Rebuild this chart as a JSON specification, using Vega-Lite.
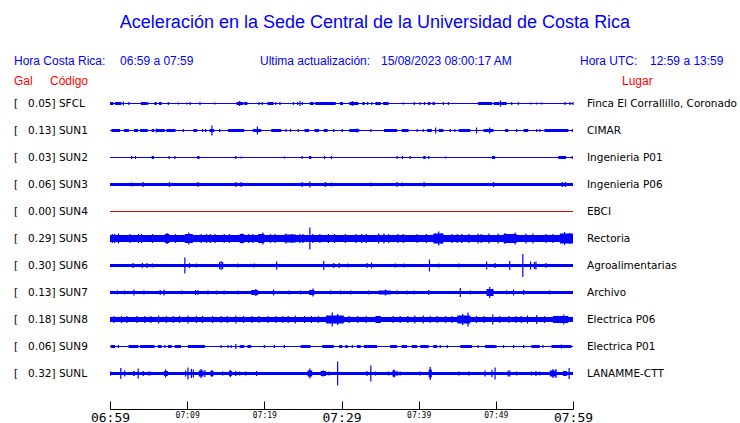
{
  "$schema": "https://vega.github.io/schema/vega-lite/v6.json",
  "autosize": {"type": "none"},
  "width": 463,
  "height": 319,
  "padding": {"left": 110, "top": 90, "right": 167, "bottom": 14},
  "background": "white",
  "config": {"view": {"stroke": null}},
  "datasets": {
    "stations": [
      {"code": "SFCL", "idx": 0, "gal": 0.05, "label": "[\u00a0\u00a0\u00a00.05] SFCL", "lugar": "Finca El Corrallillo, Coronado", "base": 1},
      {"code": "SUN1", "idx": 1, "gal": 0.13, "label": "[\u00a0\u00a0\u00a00.13] SUN1", "lugar": "CIMAR", "base": 1},
      {"code": "SUN2", "idx": 2, "gal": 0.03, "label": "[\u00a0\u00a0\u00a00.03] SUN2", "lugar": "Ingenieria P01", "base": 1},
      {"code": "SUN3", "idx": 3, "gal": 0.06, "label": "[\u00a0\u00a0\u00a00.06] SUN3", "lugar": "Ingenieria P06", "base": 3},
      {"code": "SUN4", "idx": 4, "gal": 0.00, "label": "[\u00a0\u00a0\u00a00.00] SUN4", "lugar": "EBCI", "base": 1},
      {"code": "SUN5", "idx": 5, "gal": 0.29, "label": "[\u00a0\u00a0\u00a00.29] SUN5", "lugar": "Rectoria", "base": 7},
      {"code": "SUN6", "idx": 6, "gal": 0.30, "label": "[\u00a0\u00a0\u00a00.30] SUN6", "lugar": "Agroalimentarias", "base": 3},
      {"code": "SUN7", "idx": 7, "gal": 0.13, "label": "[\u00a0\u00a0\u00a00.13] SUN7", "lugar": "Archivo", "base": 3},
      {"code": "SUN8", "idx": 8, "gal": 0.18, "label": "[\u00a0\u00a0\u00a00.18] SUN8", "lugar": "Electrica P06", "base": 5},
      {"code": "SUN9", "idx": 9, "gal": 0.06, "label": "[\u00a0\u00a0\u00a00.06] SUN9", "lugar": "Electrica P01", "base": 1},
      {"code": "SUNL", "idx": 10, "gal": 0.32, "label": "[\u00a0\u00a0\u00a00.32] SUNL", "lugar": "LANAMME-CTT", "base": 3}
    ],
    "segments": [
      {"s":"SFCL","a":0,"b":0.45,"h":3},{"s":"SFCL","a":0.65,"b":1.5,"h":3},{"s":"SFCL","a":4.0,"b":4.75,"h":3},{"s":"SFCL","a":5.75,"b":6.05,"h":3},{"s":"SFCL","a":6.35,"b":6.7,"h":3},{"s":"SFCL","a":16.4,"b":17.3,"h":3},{"s":"SFCL","a":17.4,"b":17.8,"h":3},{"s":"SFCL","a":20.4,"b":21.2,"h":3},{"s":"SFCL","a":25.9,"b":26.4,"h":3},{"s":"SFCL","a":26.6,"b":29.2,"h":3},{"s":"SFCL","a":29.8,"b":30.2,"h":3},{"s":"SFCL","a":31.0,"b":32.2,"h":3},{"s":"SFCL","a":32.7,"b":33.0,"h":3},{"s":"SFCL","a":34.4,"b":35.1,"h":3},{"s":"SFCL","a":35.4,"b":36.1,"h":3},{"s":"SFCL","a":41.2,"b":41.5,"h":3},{"s":"SFCL","a":41.8,"b":42.1,"h":3},{"s":"SFCL","a":47.7,"b":49.5,"h":3},{"s":"SFCL","a":49.7,"b":50.5,"h":3},{"s":"SFCL","a":50.7,"b":51.4,"h":3},
      {"s":"SUN1","a":0.2,"b":1.3,"h":3},{"s":"SUN1","a":1.8,"b":2.45,"h":3},{"s":"SUN1","a":3.2,"b":3.65,"h":3},{"s":"SUN1","a":3.9,"b":4.9,"h":3},{"s":"SUN1","a":5.4,"b":5.75,"h":3},{"s":"SUN1","a":6.0,"b":7.1,"h":3},{"s":"SUN1","a":7.3,"b":8.5,"h":3},{"s":"SUN1","a":10.8,"b":11.3,"h":3},{"s":"SUN1","a":12.3,"b":12.5,"h":3},{"s":"SUN1","a":12.9,"b":13.5,"h":3},{"s":"SUN1","a":15.3,"b":17.4,"h":3},{"s":"SUN1","a":18.5,"b":19.6,"h":3},{"s":"SUN1","a":20.9,"b":22.2,"h":3},{"s":"SUN1","a":25.2,"b":25.8,"h":3},{"s":"SUN1","a":26.5,"b":27.1,"h":3},{"s":"SUN1","a":27.7,"b":28.2,"h":3},{"s":"SUN1","a":31.0,"b":32.3,"h":3},{"s":"SUN1","a":35.5,"b":37.2,"h":3},{"s":"SUN1","a":37.8,"b":38.7,"h":3},{"s":"SUN1","a":41.1,"b":41.7,"h":3},{"s":"SUN1","a":42.6,"b":43.2,"h":3},{"s":"SUN1","a":45.2,"b":46.7,"h":3},{"s":"SUN1","a":48.4,"b":49.7,"h":3},{"s":"SUN1","a":51.2,"b":51.6,"h":3},{"s":"SUN1","a":53.6,"b":54.2,"h":3},{"s":"SUN1","a":56.3,"b":59.4,"h":3},
      {"s":"SUN2","a":5.4,"b":5.7,"h":3},{"s":"SUN2","a":11.3,"b":11.6,"h":3},{"s":"SUN2","a":25.8,"b":26.1,"h":3},{"s":"SUN2","a":40.6,"b":40.9,"h":3},{"s":"SUN2","a":49.5,"b":49.9,"h":3},{"s":"SUN2","a":58.1,"b":59.1,"h":3},
      {"s":"SUN5","a":7.1,"b":7.7,"h":9},{"s":"SUN5","a":9.7,"b":10.75,"h":9},{"s":"SUN5","a":16.8,"b":17.4,"h":9},{"s":"SUN5","a":19.2,"b":20.0,"h":9},{"s":"SUN5","a":22.6,"b":24.1,"h":8},{"s":"SUN5","a":41.9,"b":43.2,"h":10},{"s":"SUN5","a":51.0,"b":52.7,"h":9},{"s":"SUN5","a":58.3,"b":60,"h":10},
      {"s":"SUN7","a":18.3,"b":19.2,"h":5},{"s":"SUN7","a":25.8,"b":26.5,"h":5},{"s":"SUN7","a":34.8,"b":36.4,"h":4},{"s":"SUN7","a":48.8,"b":49.7,"h":7},
      {"s":"SUN8","a":28.0,"b":30.3,"h":8},{"s":"SUN8","a":45.0,"b":46.7,"h":8},{"s":"SUN8","a":34.4,"b":35.1,"h":7},{"s":"SUN8","a":57.4,"b":59.4,"h":7},
      {"s":"SUN9","a":0.1,"b":0.65,"h":3},{"s":"SUN9","a":2.4,"b":3.7,"h":3},{"s":"SUN9","a":3.9,"b":5.8,"h":3},{"s":"SUN9","a":6.2,"b":6.7,"h":3},{"s":"SUN9","a":7.5,"b":8.0,"h":3},{"s":"SUN9","a":8.4,"b":9.2,"h":3},{"s":"SUN9","a":10.1,"b":12.3,"h":3},{"s":"SUN9","a":16.8,"b":17.4,"h":3},{"s":"SUN9","a":17.8,"b":18.3,"h":3},{"s":"SUN9","a":24.7,"b":26.0,"h":3},{"s":"SUN9","a":27.5,"b":29.0,"h":3},{"s":"SUN9","a":29.7,"b":30.1,"h":3},{"s":"SUN9","a":30.5,"b":30.8,"h":3},{"s":"SUN9","a":32.0,"b":32.5,"h":3},{"s":"SUN9","a":32.9,"b":34.6,"h":3},{"s":"SUN9","a":36.3,"b":37.2,"h":3},{"s":"SUN9","a":37.8,"b":38.5,"h":3},{"s":"SUN9","a":39.1,"b":39.8,"h":3},{"s":"SUN9","a":40.2,"b":41.3,"h":3},{"s":"SUN9","a":41.9,"b":42.4,"h":3},{"s":"SUN9","a":45.4,"b":46.9,"h":3},{"s":"SUN9","a":48.6,"b":49.9,"h":3},{"s":"SUN9","a":54.6,"b":55.7,"h":3},{"s":"SUN9","a":57.2,"b":59.8,"h":3},
      {"s":"SUNL","a":3.0,"b":3.2,"h":5},{"s":"SUNL","a":7.0,"b":7.5,"h":5},{"s":"SUNL","a":11.5,"b":12.1,"h":6},{"s":"SUNL","a":13.0,"b":13.4,"h":5},{"s":"SUNL","a":15.4,"b":15.8,"h":5},{"s":"SUNL","a":25.6,"b":26.2,"h":6},{"s":"SUNL","a":27.3,"b":28.0,"h":5},{"s":"SUNL","a":36.6,"b":37.0,"h":6},{"s":"SUNL","a":41.3,"b":41.7,"h":8},{"s":"SUNL","a":57.0,"b":57.8,"h":6},{"s":"SUNL","a":58.7,"b":59.2,"h":5}
    ],
    "spikes": [
      {"s":"SFCL","t":1.73,"h":4},{"s":"SFCL","t":2.46,"h":3},{"s":"SFCL","t":4.88,"h":3},{"s":"SFCL","t":7.56,"h":3},{"s":"SFCL","t":8.86,"h":2},{"s":"SFCL","t":9.94,"h":2},{"s":"SFCL","t":10.37,"h":3},{"s":"SFCL","t":11.66,"h":3},{"s":"SFCL","t":13.61,"h":2},{"s":"SFCL","t":16.8,"h":5},{"s":"SFCL","t":19.31,"h":3},{"s":"SFCL","t":19.74,"h":3},{"s":"SFCL","t":21.47,"h":3},{"s":"SFCL","t":22.03,"h":3},{"s":"SFCL","t":23.76,"h":3},{"s":"SFCL","t":24.32,"h":3},{"s":"SFCL","t":24.62,"h":5},{"s":"SFCL","t":24.93,"h":3},{"s":"SFCL","t":29.16,"h":3},{"s":"SFCL","t":31.4,"h":5},{"s":"SFCL","t":33.39,"h":3},{"s":"SFCL","t":33.91,"h":3},{"s":"SFCL","t":38.02,"h":2},{"s":"SFCL","t":39.44,"h":3},{"s":"SFCL","t":40.18,"h":3},{"s":"SFCL","t":40.74,"h":3},{"s":"SFCL","t":43.2,"h":3},{"s":"SFCL","t":43.85,"h":3},{"s":"SFCL","t":50.6,"h":6},{"s":"SFCL","t":52.06,"h":3},{"s":"SFCL","t":52.92,"h":3},{"s":"SFCL","t":54.56,"h":2},{"s":"SFCL","t":55.3,"h":2},{"s":"SFCL","t":55.94,"h":2},{"s":"SFCL","t":58.97,"h":3},{"s":"SFCL","t":59.62,"h":3},{"s":"SFCL","t":60,"h":3},
      {"s":"SUN1","t":13.2,"h":10},{"s":"SUN1","t":19.1,"h":8},{"s":"SUN1","t":42.2,"h":6},{"s":"SUN1","t":47.5,"h":6},{"s":"SUN1","t":49.2,"h":6},{"s":"SUN1","t":32.0,"h":4},{"s":"SUN1","t":6.0,"h":4},{"s":"SUN1","t":3.2,"h":3},{"s":"SUN1","t":9.5,"h":3},{"s":"SUN1","t":11.0,"h":3},{"s":"SUN1","t":12.0,"h":3},{"s":"SUN1","t":14.2,"h":3},{"s":"SUN1","t":22.8,"h":3},{"s":"SUN1","t":23.4,"h":3},{"s":"SUN1","t":24.4,"h":3},{"s":"SUN1","t":29.0,"h":3},{"s":"SUN1","t":30.1,"h":3},{"s":"SUN1","t":33.8,"h":3},{"s":"SUN1","t":39.8,"h":3},{"s":"SUN1","t":40.6,"h":3},{"s":"SUN1","t":44.1,"h":3},{"s":"SUN1","t":44.7,"h":3},{"s":"SUN1","t":52.7,"h":3},{"s":"SUN1","t":55.3,"h":3},{"s":"SUN1","t":55.7,"h":3},{"s":"SUN1","t":59.9,"h":3},
      {"s":"SUN2","t":2.8,"h":3},{"s":"SUN2","t":3.3,"h":3},{"s":"SUN2","t":7.66,"h":3},{"s":"SUN2","t":8.4,"h":3},{"s":"SUN2","t":16.3,"h":3},{"s":"SUN2","t":17.0,"h":2},{"s":"SUN2","t":22.6,"h":2},{"s":"SUN2","t":24.9,"h":3},{"s":"SUN2","t":27.8,"h":3},{"s":"SUN2","t":28.7,"h":3},{"s":"SUN2","t":37.2,"h":3},{"s":"SUN2","t":37.9,"h":3},{"s":"SUN2","t":38.9,"h":3},{"s":"SUN2","t":41.3,"h":3},{"s":"SUN2","t":43.5,"h":2},{"s":"SUN2","t":59.9,"h":3},
      {"s":"SUN3","t":2.8,"h":4},{"s":"SUN3","t":4.3,"h":5},{"s":"SUN3","t":7.7,"h":5},{"s":"SUN3","t":11.4,"h":5},{"s":"SUN3","t":16.3,"h":5},{"s":"SUN3","t":17.0,"h":5},{"s":"SUN3","t":24.9,"h":5},{"s":"SUN3","t":25.9,"h":6},{"s":"SUN3","t":27.9,"h":5},{"s":"SUN3","t":28.7,"h":4},{"s":"SUN3","t":33.8,"h":4},{"s":"SUN3","t":37.2,"h":5},{"s":"SUN3","t":37.9,"h":4},{"s":"SUN3","t":40.7,"h":5},{"s":"SUN3","t":49.7,"h":5},{"s":"SUN3","t":58.6,"h":5},{"s":"SUN3","t":59.0,"h":5},
      {"s":"SUN5","t":0.3,"h":9},{"s":"SUN5","t":0.6,"h":9},{"s":"SUN5","t":1.1,"h":10},{"s":"SUN5","t":2.6,"h":9},{"s":"SUN5","t":3.7,"h":9},{"s":"SUN5","t":4.1,"h":9},{"s":"SUN5","t":5.5,"h":9},{"s":"SUN5","t":7.4,"h":11},{"s":"SUN5","t":8.5,"h":9},{"s":"SUN5","t":10.2,"h":12},{"s":"SUN5","t":11.8,"h":9},{"s":"SUN5","t":12.5,"h":9},{"s":"SUN5","t":13.0,"h":9},{"s":"SUN5","t":13.6,"h":9},{"s":"SUN5","t":14.8,"h":9},{"s":"SUN5","t":15.5,"h":9},{"s":"SUN5","t":17.1,"h":10},{"s":"SUN5","t":18.0,"h":9},{"s":"SUN5","t":18.5,"h":9},{"s":"SUN5","t":19.8,"h":12},{"s":"SUN5","t":20.8,"h":9},{"s":"SUN5","t":21.4,"h":9},{"s":"SUN5","t":22.8,"h":10},{"s":"SUN5","t":23.6,"h":9},{"s":"SUN5","t":24.6,"h":9},{"s":"SUN5","t":25.0,"h":9},{"s":"SUN5","t":25.9,"h":22},{"s":"SUN5","t":26.3,"h":9},{"s":"SUN5","t":27.2,"h":9},{"s":"SUN5","t":28.3,"h":9},{"s":"SUN5","t":29.1,"h":9},{"s":"SUN5","t":30.5,"h":9},{"s":"SUN5","t":31.9,"h":9},{"s":"SUN5","t":32.6,"h":9},{"s":"SUN5","t":33.2,"h":9},{"s":"SUN5","t":34.8,"h":10},{"s":"SUN5","t":35.5,"h":10},{"s":"SUN5","t":36.1,"h":9},{"s":"SUN5","t":37.3,"h":9},{"s":"SUN5","t":38.0,"h":9},{"s":"SUN5","t":39.8,"h":9},{"s":"SUN5","t":41.0,"h":9},{"s":"SUN5","t":42.6,"h":14},{"s":"SUN5","t":43.0,"h":11},{"s":"SUN5","t":44.3,"h":9},{"s":"SUN5","t":45.0,"h":9},{"s":"SUN5","t":45.6,"h":9},{"s":"SUN5","t":46.5,"h":9},{"s":"SUN5","t":47.7,"h":10},{"s":"SUN5","t":48.1,"h":9},{"s":"SUN5","t":49.1,"h":10},{"s":"SUN5","t":50.3,"h":10},{"s":"SUN5","t":51.2,"h":11},{"s":"SUN5","t":52.5,"h":12},{"s":"SUN5","t":53.9,"h":10},{"s":"SUN5","t":54.8,"h":10},{"s":"SUN5","t":56.5,"h":9},{"s":"SUN5","t":57.4,"h":9},{"s":"SUN5","t":58.9,"h":13},{"s":"SUN5","t":59.6,"h":11},
      {"s":"SUN6","t":3.0,"h":5},{"s":"SUN6","t":4.2,"h":5},{"s":"SUN6","t":4.8,"h":5},{"s":"SUN6","t":5.5,"h":4},{"s":"SUN6","t":9.7,"h":16},{"s":"SUN6","t":10.3,"h":5},{"s":"SUN6","t":11.2,"h":4},{"s":"SUN6","t":14.2,"h":7},{"s":"SUN6","t":14.4,"h":9},{"s":"SUN6","t":14.6,"h":7},{"s":"SUN6","t":16.6,"h":4},{"s":"SUN6","t":18.7,"h":4},{"s":"SUN6","t":21.6,"h":8},{"s":"SUN6","t":27.7,"h":9},{"s":"SUN6","t":29.0,"h":5},{"s":"SUN6","t":29.7,"h":5},{"s":"SUN6","t":30.8,"h":4},{"s":"SUN6","t":33.3,"h":5},{"s":"SUN6","t":33.9,"h":6},{"s":"SUN6","t":37.0,"h":4},{"s":"SUN6","t":38.1,"h":4},{"s":"SUN6","t":41.4,"h":12},{"s":"SUN6","t":42.6,"h":4},{"s":"SUN6","t":45.2,"h":4},{"s":"SUN6","t":48.8,"h":8},{"s":"SUN6","t":49.9,"h":5},{"s":"SUN6","t":51.8,"h":9},{"s":"SUN6","t":53.5,"h":23},{"s":"SUN6","t":54.5,"h":8},{"s":"SUN6","t":55.0,"h":7},{"s":"SUN6","t":55.2,"h":8},{"s":"SUN6","t":56.5,"h":5},
      {"s":"SUN7","t":0.95,"h":4},{"s":"SUN7","t":1.9,"h":4},{"s":"SUN7","t":3.1,"h":6},{"s":"SUN7","t":4.4,"h":4},{"s":"SUN7","t":6.5,"h":5},{"s":"SUN7","t":7.0,"h":6},{"s":"SUN7","t":9.3,"h":4},{"s":"SUN7","t":11.1,"h":5},{"s":"SUN7","t":11.4,"h":5},{"s":"SUN7","t":12.7,"h":4},{"s":"SUN7","t":13.8,"h":4},{"s":"SUN7","t":14.8,"h":4},{"s":"SUN7","t":16.6,"h":4},{"s":"SUN7","t":18.9,"h":7},{"s":"SUN7","t":21.2,"h":6},{"s":"SUN7","t":23.2,"h":4},{"s":"SUN7","t":24.7,"h":4},{"s":"SUN7","t":26.3,"h":8},{"s":"SUN7","t":28.6,"h":4},{"s":"SUN7","t":29.9,"h":4},{"s":"SUN7","t":31.2,"h":4},{"s":"SUN7","t":33.5,"h":4},{"s":"SUN7","t":35.7,"h":6},{"s":"SUN7","t":37.2,"h":4},{"s":"SUN7","t":38.5,"h":4},{"s":"SUN7","t":39.4,"h":4},{"s":"SUN7","t":41.3,"h":5},{"s":"SUN7","t":45.4,"h":9},{"s":"SUN7","t":46.7,"h":4},{"s":"SUN7","t":49.2,"h":11},{"s":"SUN7","t":51.4,"h":4},{"s":"SUN7","t":52.3,"h":6},{"s":"SUN7","t":53.6,"h":5},{"s":"SUN7","t":57.0,"h":4},
      {"s":"SUN8","t":0.5,"h":7},{"s":"SUN8","t":1.5,"h":7},{"s":"SUN8","t":2.2,"h":7},{"s":"SUN8","t":3.5,"h":7},{"s":"SUN8","t":4.5,"h":7},{"s":"SUN8","t":5.3,"h":7},{"s":"SUN8","t":6.3,"h":8},{"s":"SUN8","t":7.3,"h":7},{"s":"SUN8","t":8.2,"h":7},{"s":"SUN8","t":9.0,"h":7},{"s":"SUN8","t":10.1,"h":8},{"s":"SUN8","t":11.2,"h":7},{"s":"SUN8","t":12.0,"h":7},{"s":"SUN8","t":13.3,"h":7},{"s":"SUN8","t":14.4,"h":7},{"s":"SUN8","t":15.2,"h":7},{"s":"SUN8","t":16.3,"h":8},{"s":"SUN8","t":17.3,"h":7},{"s":"SUN8","t":18.4,"h":7},{"s":"SUN8","t":19.3,"h":7},{"s":"SUN8","t":20.5,"h":7},{"s":"SUN8","t":21.5,"h":7},{"s":"SUN8","t":22.4,"h":7},{"s":"SUN8","t":23.1,"h":7},{"s":"SUN8","t":24.0,"h":8},{"s":"SUN8","t":25.2,"h":7},{"s":"SUN8","t":26.1,"h":7},{"s":"SUN8","t":27.0,"h":7},{"s":"SUN8","t":28.8,"h":14},{"s":"SUN8","t":29.5,"h":11},{"s":"SUN8","t":31.0,"h":7},{"s":"SUN8","t":32.1,"h":7},{"s":"SUN8","t":33.2,"h":7},{"s":"SUN8","t":36.7,"h":7},{"s":"SUN8","t":37.6,"h":7},{"s":"SUN8","t":38.6,"h":7},{"s":"SUN8","t":39.5,"h":8},{"s":"SUN8","t":40.6,"h":8},{"s":"SUN8","t":41.5,"h":7},{"s":"SUN8","t":42.4,"h":7},{"s":"SUN8","t":43.5,"h":7},{"s":"SUN8","t":44.3,"h":7},{"s":"SUN8","t":45.7,"h":11},{"s":"SUN8","t":46.4,"h":14},{"s":"SUN8","t":47.5,"h":7},{"s":"SUN8","t":48.5,"h":7},{"s":"SUN8","t":49.6,"h":10},{"s":"SUN8","t":50.5,"h":7},{"s":"SUN8","t":51.7,"h":7},{"s":"SUN8","t":52.6,"h":7},{"s":"SUN8","t":53.3,"h":7},{"s":"SUN8","t":54.1,"h":8},{"s":"SUN8","t":55.3,"h":9},{"s":"SUN8","t":56.3,"h":7},{"s":"SUN8","t":58.8,"h":10},
      {"s":"SUN9","t":1.1,"h":3},{"s":"SUN9","t":7.1,"h":3},{"s":"SUN9","t":14.4,"h":3},{"s":"SUN9","t":15.3,"h":3},{"s":"SUN9","t":15.7,"h":3},{"s":"SUN9","t":16.3,"h":5},{"s":"SUN9","t":20.0,"h":3},{"s":"SUN9","t":21.3,"h":3},{"s":"SUN9","t":22.6,"h":3},{"s":"SUN9","t":31.4,"h":3},{"s":"SUN9","t":42.8,"h":3},{"s":"SUN9","t":43.7,"h":3},{"s":"SUN9","t":47.7,"h":3},{"s":"SUN9","t":50.0,"h":3},{"s":"SUN9","t":51.0,"h":3},{"s":"SUN9","t":52.3,"h":3},{"s":"SUN9","t":53.6,"h":3},{"s":"SUN9","t":56.1,"h":3},{"s":"SUN9","t":58.5,"h":4},
      {"s":"SUNL","t":0.08,"h":4},{"s":"SUNL","t":1.4,"h":11},{"s":"SUNL","t":1.9,"h":6},{"s":"SUNL","t":3.65,"h":10},{"s":"SUNL","t":4.3,"h":5},{"s":"SUNL","t":5.0,"h":4},{"s":"SUNL","t":5.2,"h":4},{"s":"SUNL","t":7.2,"h":8},{"s":"SUNL","t":9.8,"h":6},{"s":"SUNL","t":10.1,"h":12},{"s":"SUNL","t":10.55,"h":9},{"s":"SUNL","t":10.8,"h":8},{"s":"SUNL","t":11.8,"h":9},{"s":"SUNL","t":12.3,"h":7},{"s":"SUNL","t":13.2,"h":7},{"s":"SUNL","t":14.6,"h":4},{"s":"SUNL","t":15.6,"h":7},{"s":"SUNL","t":16.3,"h":5},{"s":"SUNL","t":16.8,"h":4},{"s":"SUNL","t":17.6,"h":4},{"s":"SUNL","t":19.0,"h":5},{"s":"SUNL","t":25.9,"h":10},{"s":"SUNL","t":27.6,"h":6},{"s":"SUNL","t":28.4,"h":4},{"s":"SUNL","t":29.5,"h":24},{"s":"SUNL","t":33.3,"h":5},{"s":"SUNL","t":33.8,"h":16},{"s":"SUNL","t":34.4,"h":4},{"s":"SUNL","t":36.1,"h":4},{"s":"SUNL","t":36.8,"h":8},{"s":"SUNL","t":37.2,"h":5},{"s":"SUNL","t":37.6,"h":4},{"s":"SUNL","t":40.2,"h":4},{"s":"SUNL","t":41.5,"h":13},{"s":"SUNL","t":45.2,"h":4},{"s":"SUNL","t":46.5,"h":4},{"s":"SUNL","t":48.6,"h":6},{"s":"SUNL","t":49.5,"h":7},{"s":"SUNL","t":49.9,"h":12},{"s":"SUNL","t":51.6,"h":6},{"s":"SUNL","t":51.8,"h":6},{"s":"SUNL","t":52.7,"h":4},{"s":"SUNL","t":54.6,"h":4},{"s":"SUNL","t":55.2,"h":5},{"s":"SUNL","t":55.7,"h":4},{"s":"SUNL","t":57.4,"h":9},{"s":"SUNL","t":57.8,"h":9},{"s":"SUNL","t":59.5,"h":11}
    ],
    "one": [{}]
  },
  "layer": [
    {
      "data": {"name": "stations"},
      "mark": {"type": "rule", "strokeCap": "butt"},
      "encoding": {
        "x": {"datum": 0, "type": "quantitative", "title": null, "scale": {"domain": [0, 60], "nice": false, "zero": false}},
        "x2": {"datum": 60},
        "y": {"field": "idx", "type": "quantitative", "axis": null, "scale": {"domain": [-0.5, 11.3148], "reverse": true, "nice": false, "zero": false}},
        "size": {"field": "base", "type": "quantitative", "legend": null, "scale": {"type": "linear", "domain": [0, 30], "range": [0, 30], "zero": true}},
        "color": {"condition": {"test": "datum.code === 'SUN4'", "value": "#ee0000"}, "value": "#0000ff"}
      }
    },
    {
      "data": {"name": "segments"},
      "transform": [{"lookup": "s", "from": {"data": {"name": "stations"}, "key": "code", "fields": ["idx"]}}],
      "mark": {"type": "rule", "strokeCap": "butt", "color": "#0000ff"},
      "encoding": {
        "x": {"field": "a", "type": "quantitative", "title": null},
        "x2": {"field": "b"},
        "y": {"field": "idx", "type": "quantitative", "axis": null},
        "size": {"field": "h", "type": "quantitative", "legend": null}
      }
    },
    {
      "data": {"name": "spikes"},
      "transform": [{"lookup": "s", "from": {"data": {"name": "stations"}, "key": "code", "fields": ["idx"]}}],
      "mark": {"type": "tick", "orient": "vertical", "thickness": 1.2, "color": "#0000ff", "opacity": 1},
      "encoding": {
        "x": {
          "field": "t", "type": "quantitative", "title": null,
          "axis": {
            "values": [0, 5, 10, 15, 20, 25, 30, 35, 40, 45, 50, 55, 60],
            "labelExpr": "datum.value % 10 !== 0 ? '' : timeFormat(datetime(2023, 7, 15, 6, 59 + datum.value), '%H:%M')",
            "grid": false, "title": null,
            "domainColor": "black", "domainWidth": 1,
            "tickColor": "black", "tickWidth": 1, "tickSize": -8,
            "labelPadding": 10, "labelFont": "DejaVu Sans Mono", "labelColor": "black",
            "labelFontSize": {"condition": {"test": "datum.value % 30 === 0", "value": 13}, "value": 8},
            "labelOverlap": false, "labelBound": false, "labelFlush": false
          }
        },
        "y": {"field": "idx", "type": "quantitative", "axis": null},
        "size": {"field": "h", "type": "quantitative", "legend": null}
      }
    },
    {
      "data": {"name": "stations"},
      "mark": {"type": "text", "align": "left", "baseline": "middle", "font": "DejaVu Sans", "fontSize": 10.5, "color": "black"},
      "encoding": {
        "x": {"datum": -12.44, "type": "quantitative"},
        "y": {"field": "idx", "type": "quantitative", "axis": null},
        "text": {"field": "label"}
      }
    },
    {
      "data": {"name": "stations"},
      "mark": {"type": "text", "align": "left", "baseline": "middle", "font": "DejaVu Sans", "fontSize": 10.5, "color": "black"},
      "encoding": {
        "x": {"datum": 61.81, "type": "quantitative"},
        "y": {"field": "idx", "type": "quantitative", "axis": null},
        "text": {"field": "lugar"}
      }
    },
    {
      "data": {"name": "one"},
      "mark": {"type": "text", "text": "Aceleración en la Sede Central de la Universidad de Costa Rica", "align": "center", "baseline": "middle", "font": "Liberation Sans", "fontSize": 18, "color": "#0000ff"},
      "encoding": {"x": {"datum": 34.34, "type": "quantitative"}, "y": {"datum": -2.981, "type": "quantitative"}}
    },
    {
      "data": {"name": "one"},
      "mark": {"type": "text", "text": "Hora Costa Rica:", "align": "left", "baseline": "middle", "font": "Liberation Sans", "fontSize": 12, "color": "#0000ff"},
      "encoding": {"x": {"datum": -12.44, "type": "quantitative"}, "y": {"datum": -1.574, "type": "quantitative"}}
    },
    {
      "data": {"name": "one"},
      "mark": {"type": "text", "text": "06:59 a 07:59", "align": "left", "baseline": "middle", "font": "Liberation Sans", "fontSize": 12, "color": "#0000ff"},
      "encoding": {"x": {"datum": 1.30, "type": "quantitative"}, "y": {"datum": -1.574, "type": "quantitative"}}
    },
    {
      "data": {"name": "one"},
      "mark": {"type": "text", "text": "Ultima actualización:", "align": "left", "baseline": "middle", "font": "Liberation Sans", "fontSize": 12, "color": "#0000ff"},
      "encoding": {"x": {"datum": 19.44, "type": "quantitative"}, "y": {"datum": -1.574, "type": "quantitative"}}
    },
    {
      "data": {"name": "one"},
      "mark": {"type": "text", "text": "15/08/2023 08:00:17 AM", "align": "left", "baseline": "middle", "font": "Liberation Sans", "fontSize": 12, "color": "#0000ff"},
      "encoding": {"x": {"datum": 35.12, "type": "quantitative"}, "y": {"datum": -1.574, "type": "quantitative"}}
    },
    {
      "data": {"name": "one"},
      "mark": {"type": "text", "text": "Hora UTC:", "align": "left", "baseline": "middle", "font": "Liberation Sans", "fontSize": 12, "color": "#0000ff"},
      "encoding": {"x": {"datum": 60.91, "type": "quantitative"}, "y": {"datum": -1.574, "type": "quantitative"}}
    },
    {
      "data": {"name": "one"},
      "mark": {"type": "text", "text": "12:59 a 13:59", "align": "left", "baseline": "middle", "font": "Liberation Sans", "fontSize": 12, "color": "#0000ff"},
      "encoding": {"x": {"datum": 69.98, "type": "quantitative"}, "y": {"datum": -1.574, "type": "quantitative"}}
    },
    {
      "data": {"name": "one"},
      "mark": {"type": "text", "text": "Gal", "align": "left", "baseline": "middle", "font": "Liberation Sans", "fontSize": 12, "color": "#ff0000"},
      "encoding": {"x": {"datum": -12.44, "type": "quantitative"}, "y": {"datum": -0.833, "type": "quantitative"}}
    },
    {
      "data": {"name": "one"},
      "mark": {"type": "text", "text": "Código", "align": "left", "baseline": "middle", "font": "Liberation Sans", "fontSize": 12, "color": "#ff0000"},
      "encoding": {"x": {"datum": -7.78, "type": "quantitative"}, "y": {"datum": -0.833, "type": "quantitative"}}
    },
    {
      "data": {"name": "one"},
      "mark": {"type": "text", "text": "Lugar", "align": "left", "baseline": "middle", "font": "Liberation Sans", "fontSize": 12, "color": "#ff0000"},
      "encoding": {"x": {"datum": 66.35, "type": "quantitative"}, "y": {"datum": -0.833, "type": "quantitative"}}
    }
  ]
}
